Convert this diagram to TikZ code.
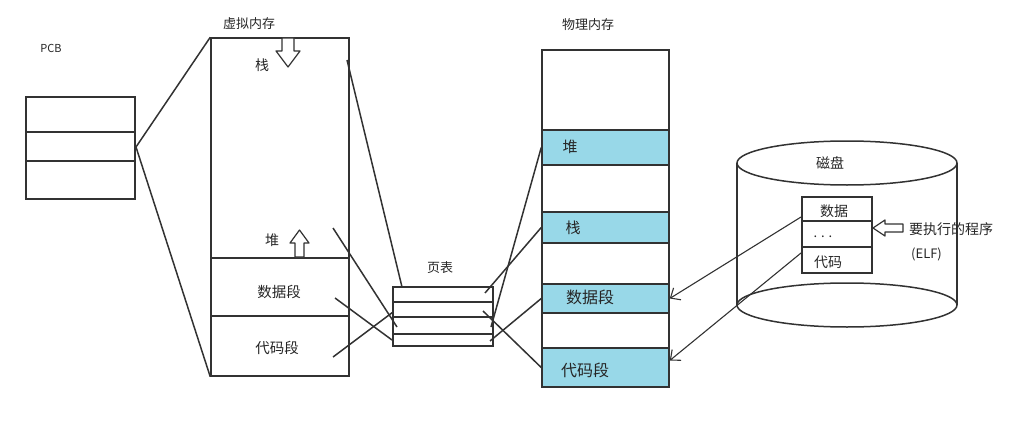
\documentclass[tikz,border=0pt]{standalone}
\usepackage{fontspec}
\setmainfont{Noto Sans CJK SC}
\usetikzlibrary{arrows.meta}
\definecolor{band}{RGB}{152,216,232}
\definecolor{ink}{RGB}{50,50,50}
\begin{document}
\begin{tikzpicture}[x=1pt,y=-1pt,
  box/.style={draw=ink,line width=1.5pt,inner sep=0pt},
  bandbox/.style={box,fill=band},
  lbl/.style={inner sep=0pt,font=\fontsize{13}{15}\selectfont,text=black!85},
  biglbl/.style={inner sep=0pt,font=\fontsize{16}{18}\selectfont,text=black!85},
  conn/.style={draw=ink,line width=1.5pt},
  fetch/.style={draw=ink,line width=1.1pt,-{Straight Barb[length=8pt,width=14pt,line width=1.1pt]}},
  hollow/.style={draw=ink,line width=1.2pt,fill=white,line join=round}]
\useasboundingbox (0,0) rectangle (1033,436);

% PCB
\node[lbl,font=\fontsize{11}{13}\selectfont] (pcbl) at (51,48) {PCB};
\node[box,minimum width=109pt,minimum height=35pt] (pcb1) at (80.5,114.5) {};
\node[box,minimum width=109pt,minimum height=29pt] (pcb2) at (80.5,146.5) {};
\node[box,minimum width=109pt,minimum height=38pt] (pcb3) at (80.5,180) {};
\coordinate (pcbE) at (136,147);

% virtual memory
\node[lbl] (vml) at (249,24) {虚拟内存};
\node[box,minimum width=138pt,minimum height=338pt] (vm) at (280,207) {};
\node[box,minimum width=138pt,minimum height=58pt] (vdata) at (280,287) {};
\node[box,minimum width=138pt,minimum height=60pt] (vcode) at (280,346) {};
\node[lbl,font=\fontsize{14}{16}\selectfont] (vstack) at (262,65) {栈};
\node[lbl,font=\fontsize{14}{16}\selectfont] (vheap) at (272,240) {堆};
\node[lbl,font=\fontsize{14.5}{16}\selectfont] at (279,292) {数据段};
\node[lbl,font=\fontsize{14.5}{16}\selectfont] at (277,348) {代码段};
\draw[hollow] (282,38) -- (294,38) -- (294,51) -- (300,51) -- (288,67) -- (276,51) -- (282,51) -- cycle;
\draw[hollow] (295,257) -- (295,243) -- (290,243) -- (299.5,230) -- (309,243) -- (304,243) -- (304,257) -- cycle;

% PCB to virtual memory
\draw[conn] (pcbE) -- (vm.north west);
\draw[conn] (pcbE) -- (vm.south west);

% page table
\node[lbl] (ptl) at (440,268) {页表};
\node[box,minimum width=100pt,minimum height=15pt] (r1) at (443,294.5) {};
\node[box,minimum width=100pt,minimum height=15pt] (r2) at (443,309.5) {};
\node[box,minimum width=100pt,minimum height=17pt] (r3) at (443,325.5) {};
\node[box,minimum width=100pt,minimum height=12pt] (r4) at (443,340) {};

% physical memory
\node[lbl] (pml) at (588,25) {物理内存};
\node[box,minimum width=127pt,minimum height=337pt] (pm) at (605.5,218.5) {};
\node[bandbox,minimum width=127pt,minimum height=35pt] (pheap) at (605.5,147.5) {};
\node[bandbox,minimum width=127pt,minimum height=31pt] (pstack) at (605.5,227.5) {};
\node[bandbox,minimum width=127pt,minimum height=29pt] (pdata) at (605.5,298.5) {};
\node[bandbox,minimum width=127pt,minimum height=39pt] (pcode) at (605.5,367.5) {};
\node[biglbl,font=\fontsize{15}{17}\selectfont] at (570,147) {堆};
\node[biglbl,font=\fontsize{15}{17}\selectfont] at (573,228) {栈};
\node[biglbl] at (590,297) {数据段};
\node[biglbl] at (585,370) {代码段};

% virtual -> page table
\coordinate (vsOut) at (347,60);
\coordinate (r1In) at (402,287);
\coordinate (vhOut) at (333,228);
\coordinate (r3In) at (397,327);
\coordinate (vdOut) at (335,298);
\coordinate (r4In) at (392,340);
\coordinate (vcOut) at (333,357);
\coordinate (r2In) at (393,312);
\draw[conn] (vsOut) -- (r1In);
\draw[conn] (vhOut) -- (r3In);
\draw[conn] (vdOut) -- (r4In);
\draw[conn] (vcOut) -- (r2In);

% page table -> physical
\coordinate (r1Out) at (485,293);
\coordinate (r2Out) at (483,311);
\coordinate (r3Out) at (491,327);
\coordinate (r4Out) at (490,341);
\draw[conn] (r1Out) -- (pstack.west);
\draw[conn] (r3Out) -- (pheap.west);
\draw[conn] (r4Out) -- (pdata.west);
\draw[conn] (r2Out) -- (pcode.west);

% disk
\draw[box] (847,163) ellipse [x radius=110pt,y radius=22pt];
\draw[box] (847,305) ellipse [x radius=110pt,y radius=22pt];
\draw[box] (737,163) -- (737,305);
\draw[box] (957,163) -- (957,305);
\node[lbl,font=\fontsize{14}{16}\selectfont] (diskl) at (830,163) {磁盘};
\node[box,minimum width=70pt,minimum height=24pt] (dd) at (837,209) {};
\node[box,minimum width=70pt,minimum height=26pt] (dm) at (837,234) {};
\node[box,minimum width=70pt,minimum height=26pt] (dc) at (837,260) {};
\node[lbl,font=\fontsize{14}{16}\selectfont] at (834,211) {数据};
\node[lbl] at (823,237) {. . .};
\node[lbl,font=\fontsize{14}{16}\selectfont] at (828,262) {代码};
\draw[hollow] (873,228) -- (885,220) -- (885,224) -- (903,224) -- (903,232) -- (885,232) -- (885,236) -- cycle;
\node[lbl,anchor=west,font=\fontsize{14}{16}\selectfont] (prog) at (909,229) {要执行的程序};
\node[lbl,anchor=west,font=\fontsize{13}{15}\selectfont] (elf) at (911,254) {(ELF)};

% disk -> physical
\coordinate (ddOut) at (801,217);
\coordinate (dcOut) at (801,253);
\draw[fetch] (ddOut) -- (pdata.east);
\draw[fetch] (dcOut) -- ([yshift=7pt]pcode.east);
\end{tikzpicture}
\end{document}
